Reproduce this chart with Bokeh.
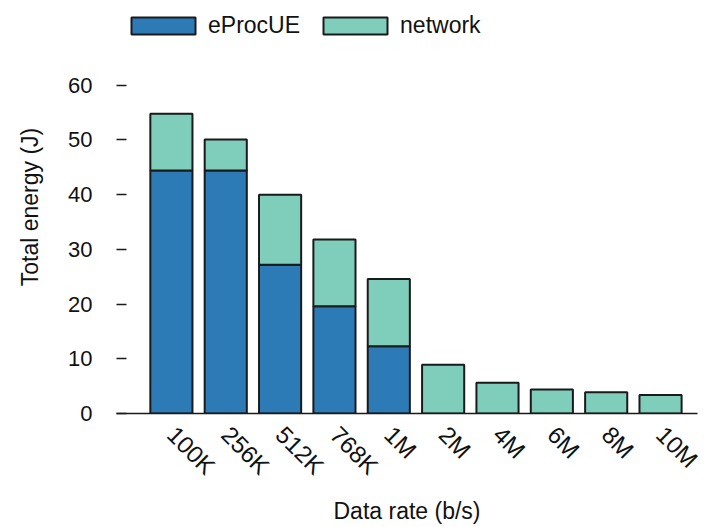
from bokeh.plotting import figure
from bokeh.models import FixedTicker, Range1d, Legend, LegendItem, ColumnDataSource
from bokeh.embed import file_html
from bokeh.resources import INLINE

# Data rate categories and the energy split per rate
rates = ["100K", "256K", "512K", "768K", "1M", "2M", "4M", "6M", "8M", "10M"]
eproc_ue = [44.4, 44.4, 27.2, 19.6, 12.3, 0, 0, 0, 0, 0]
network = [10.4, 5.7, 12.8, 12.2, 12.3, 8.9, 5.6, 4.4, 3.9, 3.4]
y_ticks = [0, 10, 20, 30, 40, 50, 60]

FONT = "Liberation Sans"
FS = "23px"
BLUE = "#2c7bb6"
GREEN = "#7fcdbb"
INK = "#111111"

xs = list(range(len(rates)))
src = ColumnDataSource(dict(x=xs, eproc=eproc_ue, network=network))

# the frame reaches the top edge so the legend can sit inside it
p = figure(width=705, height=527, output_backend="svg", toolbar_location=None,
           x_range=Range1d(-1.01, 9.68), y_range=Range1d(0, 75.5),
           min_border_left=116, min_border_right=8, min_border_top=0,
           min_border_bottom=111)

p.outline_line_color = None
p.grid.visible = False
p.background_fill_color = "white"

rs = p.vbar_stack(["eproc", "network"], x="x", width=0.775, source=src,
                  fill_color=[BLUE, GREEN], line_color="#1a1a1a", line_width=2)

# x axis: rotated rate labels, no ticks
xa = p.xaxis[0]
xa.ticker = FixedTicker(ticks=xs)
xa.major_label_overrides = {i: r for i, r in enumerate(rates)}
xa.major_label_orientation = -0.785
xa.major_tick_line_color = None
xa.minor_tick_line_color = None
xa.axis_line_color = "#1a1a1a"
xa.axis_line_width = 1.5
xa.major_label_text_font = FONT
xa.major_label_text_font_size = "24px"
xa.major_label_text_color = INK
xa.major_label_standoff = 11
xa.axis_label = "Data rate (b/s)"
xa.axis_label_text_font = FONT
xa.axis_label_text_font_style = "normal"
xa.axis_label_text_font_size = FS
xa.axis_label_text_color = INK
xa.axis_label_standoff = 6

# y axis: short inward dashes, no spine
ya = p.yaxis[0]
ya.ticker = FixedTicker(ticks=y_ticks)
ya.axis_line_color = None
ya.minor_tick_line_color = None
ya.major_tick_in = 10
ya.major_tick_out = 0
ya.major_tick_line_color = "#1a1a1a"
ya.major_tick_line_width = 1.5
ya.major_label_standoff = 24
ya.major_label_text_font = FONT
ya.major_label_text_font_size = "22px"
ya.major_label_text_color = INK
ya.axis_label = "Total energy (J)"
ya.axis_label_text_font = FONT
ya.axis_label_text_font_style = "normal"
ya.axis_label_text_font_size = FS
ya.axis_label_text_color = INK
ya.axis_label_standoff = 22

legend = Legend(items=[LegendItem(label="eProcUE", renderers=[rs[0]]),
                       LegendItem(label="network", renderers=[rs[1]])],
                orientation="horizontal", location=(7, 374),
                glyph_width=80, glyph_height=21, label_height=21,
                label_standoff=5, spacing=15, padding=0, margin=0,
                border_line_color=None, background_fill_alpha=0,
                label_text_font=FONT, label_text_font_size=FS,
                label_text_color=INK)
p.add_layout(legend, "center")

open("out.html", "w").write(file_html(p, INLINE))
